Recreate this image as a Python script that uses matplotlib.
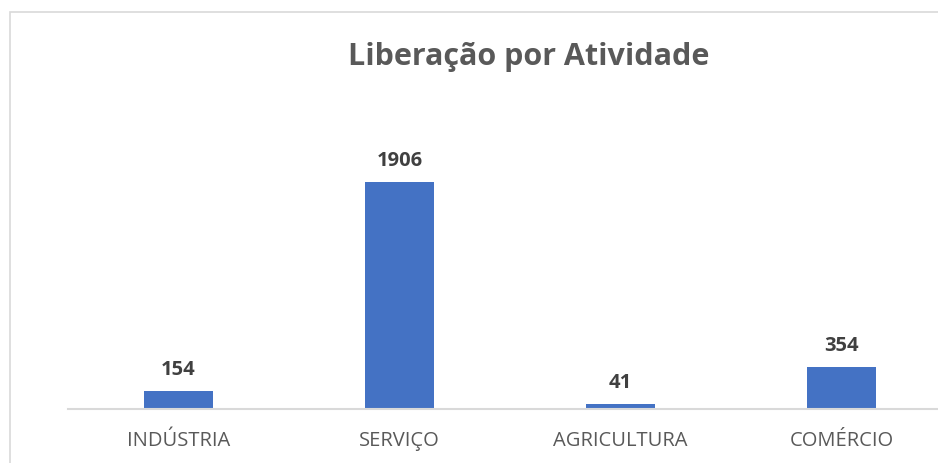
"""
plot.py
"""
import matplotlib
matplotlib.use('Agg')
import matplotlib.pyplot as plt
from matplotlib.patches import Rectangle

# Dados do gráfico
categorias = ['INDÚSTRIA', 'SERVIÇO', 'AGRICULTURA', 'COMÉRCIO']
valores = [154, 1906, 41, 354]
titulo = 'Liberação por Atividade'

COR_BARRA = '#4472C4'
COR_GRADE = '#D9D9D9'

plt.rcParams['font.family'] = ['Open Sans', 'DejaVu Sans']

W, H = 938, 463
fig = plt.figure(figsize=(W / 100, H / 100), dpi=100)

# Borda do gráfico (cortada na direita e embaixo)
fig.patches.append(Rectangle((10 / W, -0.1), 1.2, (H - 12) / H + 0.1,
                             transform=fig.transFigure, fill=False,
                             edgecolor=COR_GRADE, linewidth=1.2))

# Eixo: base em y=409 px, categorias com ~221 px de largura
ax = fig.add_axes([68 / W, 54 / H, 884 / W, 298 / H])
x = range(len(categorias))
barras = ax.bar(x, valores, width=0.31, color=COR_BARRA)
ax.set_xlim(-0.5, len(categorias) - 0.5)
ax.set_ylim(0, 2500)

for b, v in zip(barras, valores):
    ax.annotate(f'{v}', (b.get_x() + b.get_width() / 2, v),
                xytext=(0, 8), textcoords='offset points',
                ha='center', va='bottom', fontsize=14.5, fontweight='bold',
                color='#404040')

ax.set_xticks(list(x))
ax.set_xticklabels(categorias, fontsize=14.5, color='#595959')
ax.tick_params(axis='x', length=0, pad=16)
ax.set_yticks([])
for s in ['top', 'left', 'right']:
    ax.spines[s].set_visible(False)
ax.spines['bottom'].set_color(COR_GRADE)
ax.spines['bottom'].set_linewidth(1.5)
ax.patch.set_visible(False)

fig.text(529 / W, 1 - 57 / H, titulo, ha='center', va='center',
         fontsize=22, fontweight='bold', color='#595959')

fig.savefig('out.png', dpi=100)
